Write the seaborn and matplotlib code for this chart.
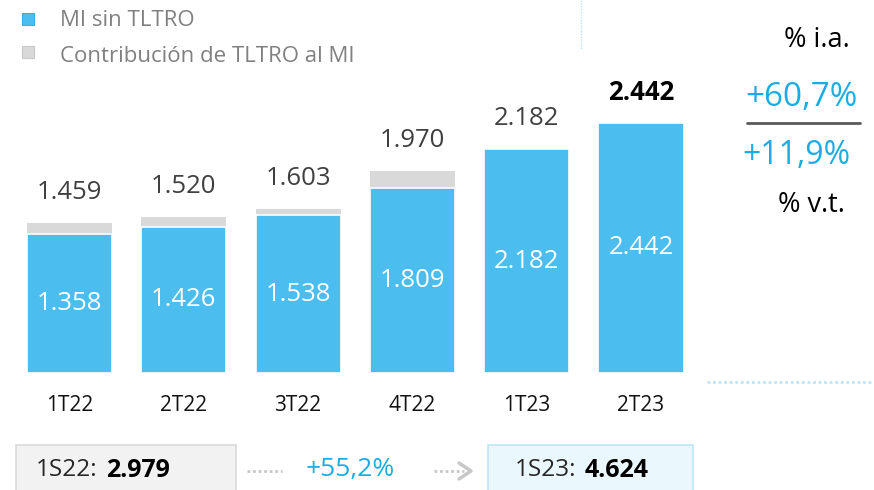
import numpy as np
import pandas as pd
import matplotlib.pyplot as plt
import seaborn as sns
from matplotlib.lines import Line2D
from matplotlib.patches import Rectangle

quarters = ['1T22', '2T22', '3T22', '4T22', '1T23', '2T23']
mi_sin_tltro = [1358, 1426, 1538, 1809, 2182, 2442]
mi_total = [1459, 1520, 1603, 1970, 2182, 2442]
labels_total = ['1.459', '1.520', '1.603', '1.970', '2.182', '2.442']
labels_inner = ['1.358', '1.426', '1.538', '1.809', '2.182', '2.442']

yoy = '+60,7%'
qoq = '+11,9%'
h1_22 = '2.979'
h1_23 = '4.624'
h1_growth = '+55,2%'

blue = '#4BBDEE'
grey = '#D9D9D9'
cyan = '#1AADE4'

sns.set_theme(style='white')
plt.rcParams['font.family'] = ['Open Sans', 'DejaVu Sans']

W, H = 874, 490
fig = plt.figure(figsize=(W / 100, H / 100), dpi=100)

def fx(px):
    return px / W

def fy(py):
    return 1 - py / H

# axes placed so bars sit where they do in the slide
ax = fig.add_axes([fx(12.35), fy(373), fx(685.8), 307.5 / H])

df = pd.DataFrame({'q': quarters, 'total': mi_total, 'sin': mi_sin_tltro})
sns.barplot(data=df, x='q', y='total', color=grey, saturation=1, width=0.744,
            ax=ax, edgecolor='none')
sns.barplot(data=df, x='q', y='sin', color=blue, saturation=1, width=0.744,
            ax=ax, edgecolor='white', linewidth=1.2)

ax.set_xlim(-0.5, 5.5)
ax.set_ylim(0, 3000)
ax.set_xlabel('')
ax.set_ylabel('')
ax.set_yticks([])
for s in ax.spines.values():
    s.set_visible(False)
ax.tick_params(axis='x', length=0, pad=16, labelsize=15, labelcolor='#111111')

for i in range(len(quarters)):
    last = i == len(quarters) - 1
    ax.annotate(labels_total[i], (i, mi_total[i]), xytext=(0, 22),
                textcoords='offset points', ha='center', va='center',
                fontsize=18.5, color='black' if last else '#404040',
                fontweight='bold' if last else 'normal')
    ax.text(i, mi_sin_tltro[i] / 2, labels_inner[i], ha='center', va='center',
            fontsize=18.5, color='white')

# legend
fig.add_artist(Rectangle((fx(22), fy(25)), fx(12), 12 / H, facecolor=blue,
                         edgecolor='#3AAEDF', lw=0.8))
fig.add_artist(Rectangle((fx(22), fy(58)), fx(12), 12 / H, facecolor=grey,
                         edgecolor='#C8C8C8', lw=0.8))
fig.text(fx(60), fy(20), 'MI sin TLTRO', fontsize=16, color='#808080', va='center')
fig.text(fx(60), fy(57), 'Contribución de TLTRO al MI', fontsize=16,
         color='#808080', va='center')

# right-hand growth panel
fig.text(fx(850), fy(40), '% i.a.', fontsize=19.5, color='black', ha='right', va='center')
fig.text(fx(858), fy(97), yoy, fontsize=24, color=cyan, ha='right', va='center')
fig.add_artist(Line2D([fx(747), fx(860)], [fy(123), fy(123)], color='#595959', lw=2))
fig.text(fx(851), fy(155), qoq, fontsize=23, color=cyan, ha='right', va='center')
fig.text(fx(845), fy(205), '% v.t.', fontsize=19.5, color='black', ha='right', va='center')

# dotted guides
fig.add_artist(Line2D([fx(581), fx(581)], [fy(0), fy(50)], color='#BDE6F7',
                      lw=1, ls=(0, (1, 1))))
fig.add_artist(Line2D([fx(707), fx(874)], [fy(382), fy(382)], color='#BDE6F7',
                      lw=2, ls=(0, (1, 1))))

# half-year boxes
fig.add_artist(Rectangle((fx(16), fy(495)), fx(220), 50 / H, facecolor='#F2F2F2',
                         edgecolor='#D9D9D9', lw=1.2))
fig.add_artist(Rectangle((fx(488), fy(495)), fx(205), 50 / H, facecolor='#EAF7FD',
                         edgecolor='#BDE6F7', lw=1.2))
fig.text(fx(36), fy(470), '1S22:', fontsize=17.5, color='#262626', va='center')
fig.text(fx(106), fy(470), h1_22, fontsize=18, color='black', fontweight='bold', va='center')
fig.text(fx(515), fy(470), '1S23:', fontsize=17.5, color='#262626', va='center')
fig.text(fx(585), fy(470), h1_23, fontsize=18, color='black', fontweight='bold', va='center')
fig.text(fx(350), fy(469), h1_growth, fontsize=19, color=cyan, ha='center', va='center')

fig.add_artist(Line2D([fx(247), fx(282)], [fy(471), fy(471)], color='#C8C8C8',
                      lw=2, ls=(0, (1, 1))))
fig.add_artist(Line2D([fx(434), fx(464)], [fy(471), fy(471)], color='#C8C8C8',
                      lw=2, ls=(0, (1, 1))))
fig.add_artist(Line2D([fx(459), fx(471), fx(459)], [fy(463), fy(471), fy(479)],
                      color='#C8C8C8', lw=2.5))

fig.savefig('out.png', dpi=100)
